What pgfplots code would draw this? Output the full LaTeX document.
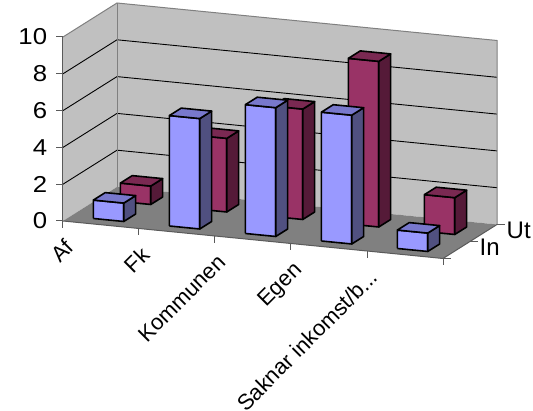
\documentclass[border=0pt]{standalone}
\usepackage{fontspec}
\setmainfont{Liberation Sans}
\usepackage{pgfplots}
\usepackage{pgfplotstable}
\pgfplotsset{compat=1.18}
\definecolor{inF}{HTML}{9999FF}
\definecolor{inS}{HTML}{505080}
\definecolor{inT}{HTML}{7878CC}
\definecolor{utF}{HTML}{993366}
\definecolor{utS}{HTML}{551A38}
\definecolor{utT}{HTML}{7A2952}
\definecolor{wallc}{HTML}{C0C0C0}
\definecolor{floorc}{HTML}{808080}
\definecolor{edgec}{HTML}{808080}

\pgfplotstableread{
idx In Ut
0 1 1
1 6 4
2 7 6
3 7 9
4 1 2
}\datatable

\newcommand{\cuboid}[4]{%
  \pgfmathsetmacro\xa{#1-0.2}%
  \pgfmathsetmacro\xb{#1+0.2}%
  \pgfmathsetmacro\ya{#2-0.22}%
  \pgfmathsetmacro\yb{#2+0.22}%
  \edef\tmp{%
  \noexpand\addplot3[forget plot, mark=none, fill=#4F, draw=black, line width=1.6pt, line join=round] coordinates {(\xa,\ya,0) (\xb,\ya,0) (\xb,\ya,#3) (\xa,\ya,#3) (\xa,\ya,0)};
  \noexpand\addplot3[forget plot, mark=none, fill=#4S, draw=black, line width=1.6pt, line join=round] coordinates {(\xb,\ya,0) (\xb,\yb,0) (\xb,\yb,#3) (\xb,\ya,#3) (\xb,\ya,0)};
  \noexpand\addplot3[forget plot, mark=none, fill=#4T, draw=black, line width=1.6pt, line join=round] coordinates {(\xa,\ya,#3) (\xb,\ya,#3) (\xb,\yb,#3) (\xa,\yb,#3) (\xa,\ya,#3)};
  }\tmp}

\begin{document}
\begin{tikzpicture}
\begin{axis}[
  x={(76pt,-7.5pt)}, y={(27pt,17pt)}, z={(0pt,18.4pt)},
  xmin=-0.5, xmax=4.5, ymin=-0.5, ymax=1.5, zmin=0, zmax=10,
  clip=false,
  axis line style={draw=none},
  tick style={draw=none},
  major tick length=0pt,
  xtick={0,1,2,3,4},
  xticklabels={Af,Fk,Kommunen,Egen,{Saknar inkomst/b.{}.{}.}},
  ytick={0,1},
  yticklabels={In,Ut},
  ztick={0,2,4,6,8,10},
  /pgf/number format/assume math mode=true,
  tick label style={text=black},
  xticklabel style={font=\fontsize{22}{26}\selectfont, xshift=-37pt, yshift=-13pt, rotate=45, anchor=north east, inner sep=0pt},
  yticklabel style={font=\fontsize{24}{28}\selectfont, anchor=west, inner sep=0pt, xshift=23pt, yshift=3pt},
  zticklabel style={font=\fontsize{23}{27}\selectfont, xscale=1.12, anchor=east, inner sep=0pt, xshift=-14pt},
]
% walls and floor
\fill[wallc] (axis cs:-0.5,1.5,0) -- (axis cs:4.5,1.5,0) -- (axis cs:4.5,1.5,10) -- (axis cs:-0.5,1.5,10) -- cycle;
\fill[wallc] (axis cs:-0.5,-0.5,0) -- (axis cs:-0.5,1.5,0) -- (axis cs:-0.5,1.5,10) -- (axis cs:-0.5,-0.5,10) -- cycle;
\fill[floorc] (axis cs:-0.5,-0.5,0) -- (axis cs:4.5,-0.5,0) -- (axis cs:4.5,1.5,0) -- (axis cs:-0.5,1.5,0) -- cycle;
% grid lines
\pgfplotsinvokeforeach{2,4,6,8}{
  \draw[black, line width=0.9pt] (axis cs:-0.5,-0.5,#1) -- (axis cs:-0.5,1.5,#1) -- (axis cs:4.5,1.5,#1);
}
% wall edges
\draw[edgec, line width=1pt] (axis cs:-0.5,-0.5,10) -- (axis cs:-0.5,1.5,10) -- (axis cs:4.5,1.5,10) -- (axis cs:4.5,1.5,0);
\draw[edgec, line width=1pt] (axis cs:-0.5,1.5,0) -- (axis cs:-0.5,1.5,10);
% axes
\draw[edgec!70!black, line width=1pt] (axis cs:-0.5,-0.5,0) -- (axis cs:-0.5,-0.5,10);
\draw[edgec!70!black, line width=1pt] (axis cs:-0.5,-0.5,0) -- (axis cs:4.5,-0.5,0) -- (axis cs:4.5,1.5,0);
\pgfplotsinvokeforeach{0,2,4,6,8,10}{
  \draw[edgec!70!black, line width=1pt] (axis cs:-0.5,-0.5,#1) -- ++(-7pt,0pt);
}
\pgfplotsinvokeforeach{-0.5,0.5,1.5,2.5,3.5,4.5}{
  \draw[edgec!70!black, line width=1pt] (axis cs:#1,-0.5,0) -- ++(0pt,-7pt);
}
\pgfplotsinvokeforeach{-0.5,0.5,1.5}{
  \draw[edgec!70!black, line width=1pt] (axis cs:4.5,#1,0) -- ++(8pt,0pt);
}
% bars: back row (Ut) first, then front row (In)
\pgfplotsinvokeforeach{0,1,2,3,4}{
  \pgfplotstablegetelem{#1}{Ut}\of\datatable
  \let\hval\pgfplotsretval
  \cuboid{#1}{1}{\hval}{ut}
}
\pgfplotsinvokeforeach{0,1,2,3,4}{
  \pgfplotstablegetelem{#1}{In}\of\datatable
  \let\hval\pgfplotsretval
  \cuboid{#1}{0}{\hval}{in}
}
\coordinate (O) at (axis cs:-0.5,-0.5,0);
\end{axis}
\pgfresetboundingbox
\path[use as bounding box] (O) ++(-63pt,-190pt) rectangle ++(533pt,411pt);
\end{tikzpicture}
\end{document}
